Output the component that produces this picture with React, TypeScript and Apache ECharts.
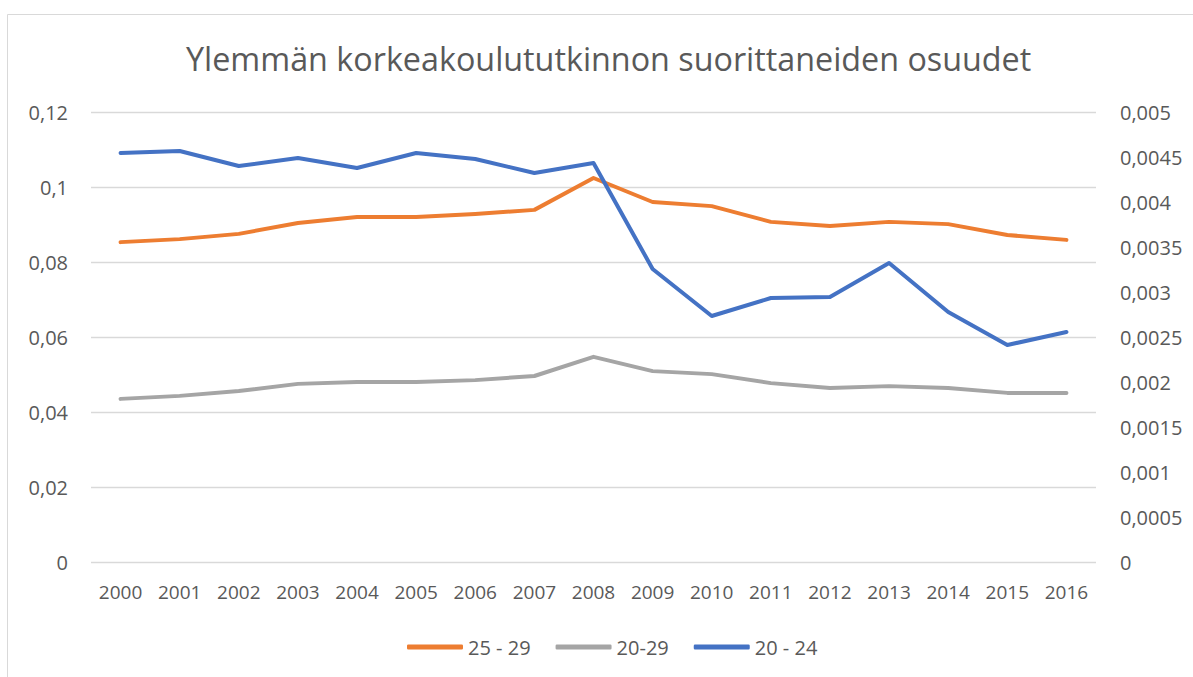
import React, { useEffect, useRef } from "react";
import * as echarts from "echarts";

const years = ["2000","2001","2002","2003","2004","2005","2006","2007","2008","2009","2010","2011","2012","2013","2014","2015","2016"];
const s2529 = [0.0853,0.0861,0.0875,0.0904,0.092,0.092,0.0928,0.0939,0.1024,0.096,0.0949,0.0907,0.0896,0.0907,0.0901,0.0872,0.0859];
const s2029 = [0.0435,0.0443,0.0456,0.0475,0.048,0.048,0.0485,0.0496,0.0547,0.0509,0.0501,0.0477,0.0464,0.0469,0.0464,0.0451,0.0451];
const s2024 = [0.004544,0.004567,0.0044,0.004489,0.004378,0.004544,0.004478,0.004322,0.004433,0.003256,0.002733,0.002933,0.002944,0.003322,0.002778,0.002411,0.002556];
const titleText = "Ylemmän korkeakoulututkinnon suorittaneiden osuudet";

const fmt = (v: number) => String(Number(v.toFixed(6))).replace(".", ",");

export default function App() {
  const ref = useRef<HTMLDivElement>(null);
  useEffect(() => {
    const chart = echarts.init(ref.current!, undefined, { renderer: "svg" });
    const font = "Open Sans";
    const tc = "#595959";
    chart.setOption({
      animation: false,
      backgroundColor: "#fff",
      textStyle: { fontFamily: font },
      title: {
        text: titleText,
        left: 181,
        top: 37,
        textStyle: { fontFamily: font, fontSize: 32.3, fontWeight: "normal", color: tc },
      },
      graphic: [
        {
          type: "rect",
          shape: { x: 7.5, y: 14.5, width: 1200, height: 700 },
          style: { fill: "none", stroke: "#d9d9d9", lineWidth: 1 },
          silent: true,
        },
      ],
      legend: {
        top: 632,
        left: 402,
        itemWidth: 56,
        itemHeight: 5,
        itemGap: 25,
        icon: "roundRect",
        textStyle: { fontFamily: font, fontSize: 20, color: tc },
        data: ["25 - 29", "20-29", "20 - 24"],
      },
      grid: { left: 91, right: 97, top: 112, bottom: 115, containLabel: false },
      xAxis: {
        type: "category",
        data: years,
        boundaryGap: true,
        axisLine: { show: false },
        axisTick: { show: false },
        axisLabel: { color: tc, fontSize: 19, fontFamily: font, margin: 20, interval: 0 },
      },
      yAxis: [
        {
          type: "value",
          min: 0,
          max: 0.12,
          interval: 0.02,
          axisLine: { show: false },
          axisTick: { show: false },
          splitLine: { lineStyle: { color: "#d9d9d9", width: 1.3 } },
          axisLabel: { color: tc, fontSize: 20, fontFamily: font, margin: 23, formatter: fmt },
        },
        {
          type: "value",
          min: 0,
          max: 0.005,
          interval: 0.0005,
          axisLine: { show: false },
          axisTick: { show: false },
          splitLine: { show: false },
          axisLabel: { color: tc, fontSize: 20, fontFamily: font, margin: 24, align: "left", formatter: fmt },
        },
      ],
      series: [
        {
          name: "25 - 29",
          type: "line",
          data: s2529,
          yAxisIndex: 0,
          symbol: "none",
          lineStyle: { color: "#ed7d31", width: 4, cap: "round", join: "round" },
          itemStyle: { color: "#ed7d31" },
        },
        {
          name: "20-29",
          type: "line",
          data: s2029,
          yAxisIndex: 0,
          symbol: "none",
          lineStyle: { color: "#a5a5a5", width: 4, cap: "round", join: "round" },
          itemStyle: { color: "#a5a5a5" },
        },
        {
          name: "20 - 24",
          type: "line",
          data: s2024,
          yAxisIndex: 1,
          symbol: "none",
          lineStyle: { color: "#4472c4", width: 4, cap: "round", join: "round" },
          itemStyle: { color: "#4472c4" },
        },
      ],
    });
    return () => chart.dispose();
  }, []);
  return (
    <div
      ref={ref}
      style={{ position: "absolute", left: 0, top: 0, width: 1193, height: 677 }}
    />
  );
}
